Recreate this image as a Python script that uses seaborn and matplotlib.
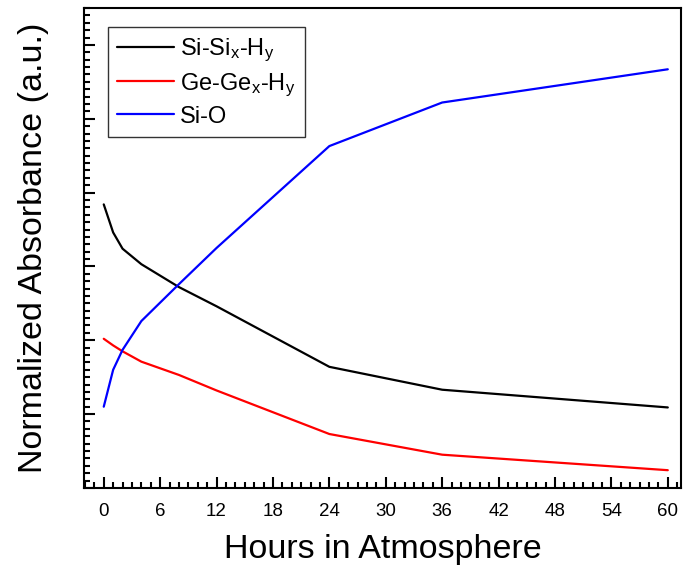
import pandas as pd
import seaborn as sns
import matplotlib.pyplot as plt
from matplotlib.ticker import MultipleLocator, NullFormatter

# values (arbitrary units, major tick = 1)
hours = [0, 1, 2, 4, 8, 12, 24, 36, 60]
si_si_h = [3.84, 3.46, 3.24, 3.03, 2.72, 2.46, 1.64, 1.33, 1.09]
ge_ge_h = [2.02, 1.93, 1.85, 1.71, 1.53, 1.32, 0.73, 0.45, 0.24]
si_o = [1.10, 1.60, 1.87, 2.26, 2.76, 3.25, 4.63, 5.22, 5.67]

labels = ['Si-Si$_x$-H$_y$', 'Ge-Ge$_x$-H$_y$', 'Si-O']
colors = ['black', 'red', 'blue']

df = pd.DataFrame({
    'Hours': hours * 3,
    'Absorbance': si_si_h + ge_ge_h + si_o,
    'Series': [labels[0]] * len(hours) + [labels[1]] * len(hours) + [labels[2]] * len(hours),
})

sns.set_style('ticks')
plt.rcParams['font.family'] = ['Liberation Sans', 'DejaVu Sans']
plt.rcParams['mathtext.default'] = 'regular'
plt.rcParams['text.color'] = 'black'
plt.rcParams['axes.labelcolor'] = 'black'

fig = plt.figure(figsize=(6.83, 5.72), dpi=100)
ax = fig.add_axes([0.123, 0.147, 0.874, 0.839])

sns.lineplot(data=df, x='Hours', y='Absorbance', hue='Series',
             palette=dict(zip(labels, colors)), linewidth=1.6, ax=ax)

ax.set_xlim(-2.1, 61.4)
ax.set_ylim(0, 6.5)
ax.xaxis.set_major_locator(MultipleLocator(6))
ax.xaxis.set_minor_locator(MultipleLocator(1))
ax.yaxis.set_major_locator(MultipleLocator(1))
ax.yaxis.set_minor_locator(MultipleLocator(0.1))
ax.yaxis.set_major_formatter(NullFormatter())

ax.tick_params(which='both', direction='in', top=False, right=False, width=1.5, colors='black')
ax.tick_params(which='major', length=8, labelsize=13.5, pad=11)
ax.tick_params(which='minor', length=4.5)
for s in ax.spines.values():
    s.set_linewidth(1.5)
    s.set_color('black')

ax.set_xlabel('Hours in Atmosphere', fontsize=24.5, labelpad=10)
ax.set_ylabel('Normalized Absorbance (a.u.)', fontsize=24.5, labelpad=14)

leg = ax.legend(loc='upper left', bbox_to_anchor=(0.040, 0.960), borderaxespad=0,
                fontsize=17, frameon=True, fancybox=False, handlelength=2.4,
                handletextpad=0.25, labelspacing=0.3, borderpad=0.4)
leg.get_frame().set_edgecolor('black')
leg.get_frame().set_linewidth(1.0)

plt.savefig('out.png', dpi=100)
